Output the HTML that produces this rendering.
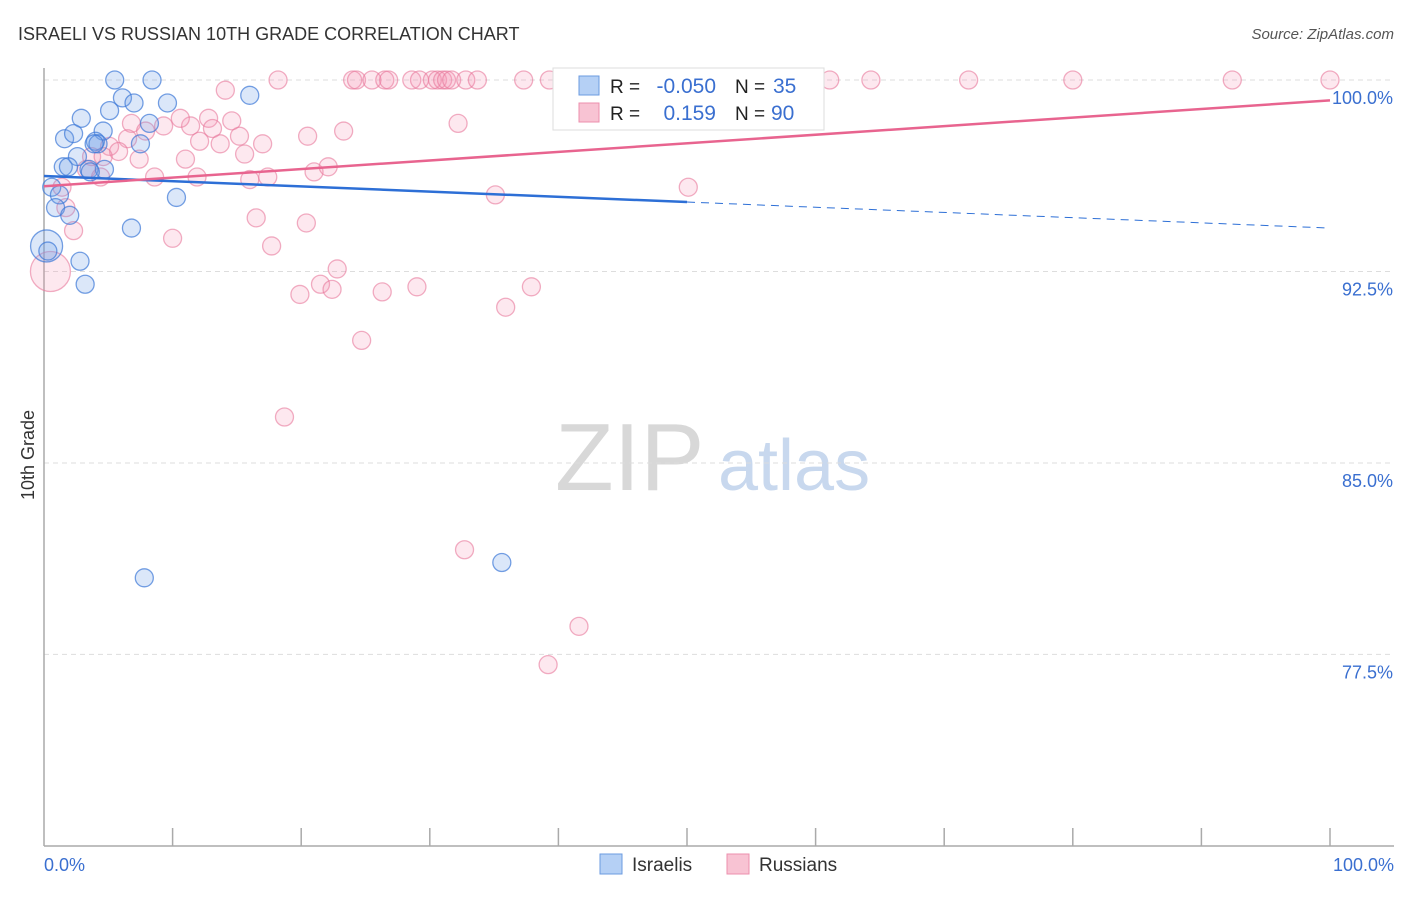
<!DOCTYPE html>
<html><head><meta charset="utf-8"><style>
body{margin:0;background:#fff;font-family:"Liberation Sans",sans-serif;}
svg text{font-family:"Liberation Sans",sans-serif;}
</style></head><body>
<svg id="chart" width="1406" height="892" xmlns="http://www.w3.org/2000/svg">
<text x="18" y="40" font-size="18" fill="#333">ISRAELI VS RUSSIAN 10TH GRADE CORRELATION CHART</text>
<text x="1394" y="39" font-size="15" fill="#555" text-anchor="end" font-style="italic">Source: ZipAtlas.com</text>
<text transform="translate(34,455) rotate(-90)" font-size="18" fill="#333" text-anchor="middle">10th Grade</text>
<text x="555" y="490" font-size="96" fill="#d8d8d8" font-family="Liberation Serif">ZIP</text>
<text x="718" y="490" font-size="72" fill="#c8d8ee">atlas</text>
<g id="grid"></g><g id="pts"></g><g id="lines"></g>
<g>
<rect x="553" y="68" width="271" height="62" fill="#fff" stroke="#ddd"/>
<rect x="579" y="76" width="20" height="19" fill="#b5d0f5" stroke="#6b9be0"/>
<rect x="579" y="103" width="20" height="19" fill="#f8c3d3" stroke="#ec8fae"/>
<text x="610" y="93" font-size="19" fill="#222">R =</text><text x="716" y="93" font-size="21" fill="#3a6fd0" text-anchor="end">-0.050</text>
<text x="735" y="93" font-size="19" fill="#222">N =</text><text x="773" y="93" font-size="21" fill="#3a6fd0">35</text>
<text x="610" y="120" font-size="19" fill="#222">R =</text><text x="716" y="120" font-size="21" fill="#3a6fd0" text-anchor="end">0.159</text>
<text x="735" y="120" font-size="19" fill="#222">N =</text><text x="771" y="120" font-size="21" fill="#3a6fd0">90</text>
</g>
<g>
<rect x="600" y="854" width="22" height="20" fill="#b5d0f5" stroke="#6b9be0"/>
<text x="632" y="871" font-size="19" fill="#333">Israelis</text>
<rect x="727" y="854" width="22" height="20" fill="#f8c3d3" stroke="#ec8fae"/>
<text x="759" y="871" font-size="19" fill="#333">Russians</text>
</g>
</svg>
<script>
const yTicks=[100,92.5,85,77.5];
const yTickLabels=["100.0%","92.5%","85.0%","77.5%"];
const xTickLabels=["0.0%","100.0%"];
const israeliX=[5.5,8.4,45.6,6.1,7.0,5.1,9.6,16.0,2.9,8.2,4.6,1.6,2.3,4.0,7.5,4.2,1.5,2.6,1.9,3.5,4.7,0.6,1.2,0.9,2.0,10.3,6.8,0.2,0.3,2.8,3.2,7.8,35.6,3.6,3.9];
const israeliY=[100,100,100,99.3,99.1,98.8,99.1,99.4,98.5,98.3,98.0,97.7,97.9,97.6,97.5,97.5,96.6,97.0,96.6,96.5,96.5,95.8,95.5,95.0,94.7,95.4,94.2,93.5,93.3,92.9,92.0,80.5,81.1,96.4,97.5];
const israeliR=[9,9,9,9,9,9,9,9,9,9,9,9,9,9,9,9,9,9,9,9,9,9,9,9,9,9,9,16,9,9,9,9,9,9,9];
const russianX=[18.2,24.0,24.3,25.5,26.5,26.8,28.6,29.2,30.2,30.6,31.0,31.3,31.7,32.8,33.7,37.3,39.3,40.7,41.2,42.7,47.0,49.5,51.0,52.6,59.3,61.1,64.3,71.9,80.0,92.4,100,
14.1,12.8,6.8,9.3,11.4,10.6,13.1,14.6,6.5,7.9,12.1,15.2,17.0,13.7,20.5,23.3,32.2,5.1,3.7,5.8,7.4,4.6,11.0,15.6,3.3,4.4,8.6,11.9,16.0,17.4,21.0,22.1,50.1,35.1,1.4,1.7,2.3,16.5,10.0,20.4,17.7,22.8,19.9,21.5,22.4,26.3,29.0,37.9,35.9,24.7,18.7,32.7,41.6,39.2,0.5];
const russianY=[100,100,100,100,100,100,100,100,100,100,100,100,100,100,100,100,100,100,100,100,100,100,100,100,100,100,100,100,100,100,100,
99.6,98.5,98.3,98.2,98.2,98.5,98.1,98.4,97.7,98.0,97.6,97.8,97.5,97.5,97.8,98.0,98.3,97.4,97.0,97.2,96.9,97.0,96.9,97.1,96.5,96.2,96.2,96.2,96.1,96.2,96.4,96.6,95.8,95.5,95.8,95.0,94.1,94.6,93.8,94.4,93.5,92.6,91.6,92.0,91.8,91.7,91.9,91.9,91.1,89.8,86.8,81.6,78.6,77.1,92.5];
const israeliTrend=[96.24,94.2];
const russianTrend=[95.84,99.2];
const NS="http://www.w3.org/2000/svg";
const X0=44,X1=1330,Y100=80,PPU=25.53;
function xs(v){return X0+(X1-X0)*v/100;}
function ys(v){return Y100+(100-v)*PPU;}
function mk(tag,attrs,parent){const e=document.createElementNS(NS,tag);for(const k in attrs)e.setAttribute(k,attrs[k]);parent.appendChild(e);return e;}
const grid=document.getElementById('grid');
yTicks.forEach((t,i)=>{
  const l=mk('line',{x1:X0,x2:1394,y1:ys(t),y2:ys(t),stroke:'#ddd','stroke-dasharray':'5,4'},grid);
  
  
  const tx=mk('text',{x:1393,y:ys(t)+24,'font-size':18,fill:'#3a6fd0','text-anchor':'end'},grid);
  tx.textContent=yTickLabels[i];
  
  
});
const ax=mk('line',{x1:X0,x2:X0,y1:68,y2:846,stroke:'#aaa','stroke-width':1.5},grid);


const bx=mk('line',{x1:X0,x2:1394,y1:846,y2:846,stroke:'#aaa','stroke-width':1.5},grid);


for(let i=1;i<=10;i++){
  const t=mk('line',{x1:xs(i*10),x2:xs(i*10),y1:828,y2:846,stroke:'#aaa','stroke-width':1.5},grid);
  
  
}
const xl0=mk('text',{x:44,y:871,'font-size':18,fill:'#3a6fd0'},grid);xl0.textContent=xTickLabels[0];


const xl1=mk('text',{x:1394,y:871,'font-size':18,fill:'#3a6fd0','text-anchor':'end'},grid);xl1.textContent=xTickLabels[1];


const pts=document.getElementById('pts');
russianX.forEach((v,i)=>{
  const c=mk('circle',{cx:xs(v),cy:ys(russianY[i]),r:(i===russianX.length-1?20:9),fill:'rgba(244,150,180,0.22)',stroke:'rgba(232,120,155,0.6)','stroke-width':1.3},pts);
  
  
});
israeliX.forEach((v,i)=>{
  const c=mk('circle',{cx:xs(v),cy:ys(israeliY[i]),r:israeliR[i],fill:'rgba(110,160,230,0.25)',stroke:'rgba(60,120,215,0.7)','stroke-width':1.3},pts);
  
  
});
const lines=document.getElementById('lines');
const iy=x=>israeliTrend[0]+(israeliTrend[1]-israeliTrend[0])*x/100;
const l1=mk('line',{x1:xs(0),y1:ys(iy(0)),x2:xs(50),y2:ys(iy(50)),stroke:'#2d6fd6','stroke-width':2.5},lines);


const l2=mk('line',{x1:xs(50),y1:ys(iy(50)),x2:xs(100),y2:ys(iy(100)),stroke:'#2d6fd6','stroke-width':1,'stroke-dasharray':'8,6'},lines);


const l3=mk('line',{x1:xs(0),y1:ys(russianTrend[0]),x2:xs(100),y2:ys(russianTrend[1]),stroke:'#e8648f','stroke-width':2.5},lines);


</script>
</body></html>
